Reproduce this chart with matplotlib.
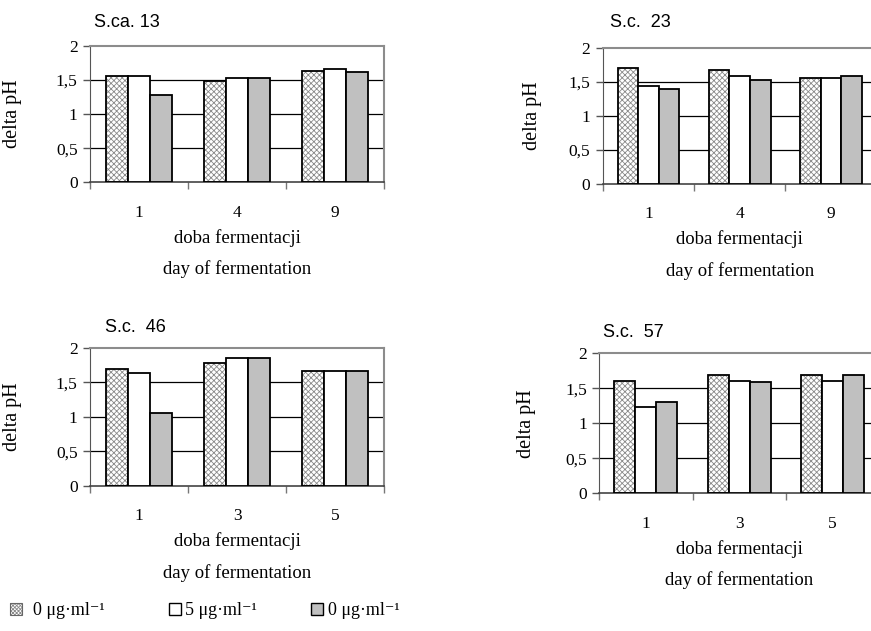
import matplotlib
matplotlib.use("Agg")
import matplotlib.pyplot as plt
from matplotlib.patches import Rectangle
import numpy as np

# data
titles = ["S.ca. 13", "S.c.  23", "S.c.  46", "S.c.  57"]
days = [["1", "4", "9"], ["1", "4", "9"], ["1", "3", "5"], ["1", "3", "5"]]
ctrl = [[1.56, 1.48, 1.63], [1.70, 1.67, 1.55], [1.69, 1.78, 1.66], [1.61, 1.69, 1.69]]
dose5 = [[1.56, 1.53, 1.66], [1.44, 1.58, 1.55], [1.64, 1.85, 1.66], [1.23, 1.61, 1.61]]
dose10 = [[1.28, 1.53, 1.61], [1.39, 1.53, 1.58], [1.05, 1.85, 1.66], [1.31, 1.59, 1.69]]
legend_labels = ["0 μg·ml⁻¹", "5 μg·ml⁻¹", "0 μg·ml⁻¹"]
yticks = [0, 0.5, 1, 1.5, 2]
ytick_labels = ["0", "0,5", "1", "1,5", "2"]

W, H = 871, 631
# axes boxes in pixels: left, top(y=2), width, bottom(y=0)
boxes = [(90, 45.7, 294, 182.3), (602.7, 47.7, 274, 183.7),
         (90, 347.7, 294, 486.0), (599.3, 353.3, 280, 493.3)]
title_pos = [(0.014, 1.137), (0.026, 1.15), (0.051, 1.116), (0.014, 1.119)]
ylab_x = [-0.231, -0.22, -0.231, -0.225]

plt.rcParams["font.family"] = ["Liberation Serif", "DejaVu Serif"]
plt.rcParams["hatch.linewidth"] = 0.6

GRAY = "#c0c0c0"
HATCH_C = "#8a8a8a"
bw = 0.225

fig = plt.figure(figsize=(W / 100, H / 100), dpi=100)


def hatched_bar(ax, x, h, width):
    ax.bar(x, h, width, color="white", edgecolor=HATCH_C, hatch="xxxxxx", linewidth=0, zorder=2)
    ax.bar(x, h, width, color="none", edgecolor="black", linewidth=1.3, zorder=3)


for k in range(4):
    l, t, w, b = boxes[k]
    ax = fig.add_axes([l / W, 1 - b / H, w / W, (b - t) / H])
    x = np.arange(3)
    hatched_bar(ax, x - bw, ctrl[k], bw)
    ax.bar(x, dose5[k], bw, color="white", edgecolor="black", linewidth=1.3, zorder=3)
    ax.bar(x + bw, dose10[k], bw, color=GRAY, edgecolor="black", linewidth=1.3, zorder=3)

    ax.set_xlim(-0.5, 2.5)
    ax.set_ylim(0, 2)
    for yv in [0.5, 1, 1.5]:
        ax.axhline(yv, color="black", linewidth=0.9, zorder=1)

    ax.set_yticks(yticks)
    ax.set_yticklabels(ytick_labels, fontsize=12.5)
    ax.tick_params(axis="y", direction="out", length=5, width=1, color="#555555", pad=4)

    ax.set_xticks([-0.5, 0.5, 1.5, 2.5])
    ax.set_xticklabels([])
    ax.tick_params(axis="x", which="major", direction="out", length=5, width=1, color="#777777")
    ax.set_xticks(x, minor=True)
    ax.set_xticklabels(days[k], minor=True, fontsize=12.5)
    ax.tick_params(axis="x", which="minor", length=0, pad=16)

    for s in ["top", "right"]:
        ax.spines[s].set_color("#8c8c8c")
        ax.spines[s].set_linewidth(1.5)
    ax.spines["left"].set_color("#555555")
    ax.spines["bottom"].set_color("#444444")
    ax.spines["bottom"].set_linewidth(1.2)

    ax.set_xlabel("doba fermentacji\nday of fermentation", fontsize=13.5, linespacing=2.0, labelpad=6)
    ax.set_ylabel("delta pH", fontsize=14.5)
    ax.yaxis.set_label_coords(ylab_x[k], 0.5)

    tx, ty = title_pos[k]
    ax.text(tx, ty, titles[k], transform=ax.transAxes, family="Liberation Sans",
            fontsize=13, ha="left", va="baseline")

# legend along the bottom
sq = 12
leg_x = [(10, 33), (169, 185), (311, 328)]
faces = ["white", "white", GRAY]
y0 = 1 - 615 / H
for i, (sx, tx) in enumerate(leg_x):
    if i == 0:
        fig.add_artist(Rectangle((sx / W, y0), sq / W, sq / H, transform=fig.transFigure,
                                 facecolor="white", edgecolor=HATCH_C, hatch="xxxxxxxxx", linewidth=0))
        fig.add_artist(Rectangle((sx / W, y0), sq / W, sq / H, transform=fig.transFigure,
                                 facecolor="none", edgecolor="#666666", linewidth=0.8))
    else:
        fig.add_artist(Rectangle((sx / W, y0), sq / W, sq / H, transform=fig.transFigure,
                                 facecolor=faces[i], edgecolor="black", linewidth=1.0))
    fig.text(tx / W, y0, legend_labels[i], fontsize=13, ha="left", va="baseline")

fig.savefig("out.png", dpi=100)
